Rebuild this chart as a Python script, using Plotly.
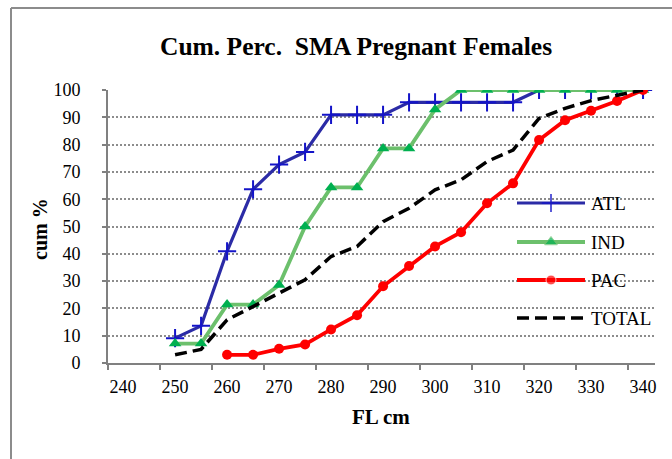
import plotly.graph_objects as go

# FL classes (cm) and cumulative percentages
fl = [250, 255, 260, 265, 270, 275, 280, 285, 290, 295, 300, 305, 310, 315, 320, 325, 330, 335, 340]
atl = [9.1, 13.6, 40.9, 63.6, 72.7, 77.3, 90.9, 90.9, 90.9, 95.5, 95.5, 95.5, 95.5, 95.5, 100, 100, 100, 100, 100]
ind = [7.1, 7.1, 21.4, 21.4, 28.6, 50.0, 64.3, 64.3, 78.6, 78.6, 92.9, 100, 100, 100, 100, 100, 100, 100, 100]
pac_fl = [260, 265, 270, 275, 280, 285, 290, 295, 300, 305, 310, 315, 320, 325, 330, 335, 340]
pac = [3.0, 3.0, 5.2, 6.8, 12.3, 17.5, 28.1, 35.5, 42.7, 47.9, 58.5, 65.8, 81.7, 88.9, 92.4, 96.0, 100]
total = [3.0, 5.0, 15.8, 20.7, 25.6, 30.5, 39.0, 42.7, 51.8, 56.7, 63.4, 67.1, 73.8, 78.0, 89.6, 93.3, 96.1, 98.2, 100]

x_ticks = [240, 250, 260, 270, 280, 290, 300, 310, 320, 330, 340]
y_ticks = [0, 10, 20, 30, 40, 50, 60, 70, 80, 90, 100]

FONT = 'Liberation Serif, Times New Roman, serif'
W, H = 672, 459
L, R, T, B = 108, 17, 90, 96

def px(x):
    return (x - L) / (W - L - R)

def py(y):
    return (H - B - y) / (H - T - B)

series = [
    dict(name='ATL', x=fl, y=atl, line=dict(color='#2B2BA6', width=3.2),
         marker=dict(symbol='cross-thin', size=13, line=dict(color='#1414C8', width=2))),
    dict(name='IND', x=fl, y=ind, line=dict(color='#6CC06C', width=3.8),
         marker=dict(symbol='triangle-up', size=11, color='#00B050')),
    dict(name='PAC', x=pac_fl, y=pac, line=dict(color='#FF0000', width=3.8),
         marker=dict(symbol='circle', size=10, color='#FF0000')),
    dict(name='TOTAL', x=fl, y=total, line=dict(color='#000000', width=3.5, dash='12px,6px'),
         marker=None),
]

fig = go.Figure()
for s in series:
    fig.add_trace(go.Scatter(
        x=s['x'], y=s['y'], name=s['name'],
        mode='lines+markers' if s['marker'] else 'lines',
        line=s['line'], marker=s['marker'], showlegend=False))

# hand-drawn legend on a pixel overlay axis
leg_y = [203, 242, 280, 318]
for s, ly in zip(series, leg_y):
    fig.add_trace(go.Scatter(
        x=[517, 551, 585], y=[ly, ly, ly], xaxis='x2', yaxis='y2',
        mode='lines+markers' if s['marker'] else 'lines',
        line=s['line'],
        marker=dict(s['marker'], size=[0, s['marker']['size'], 0]) if s['marker'] else None,
        showlegend=False, hoverinfo='skip'))
    fig.add_annotation(x=px(589), y=py(ly), xref='paper', yref='paper',
                       text=s['name'], showarrow=False, xanchor='left', yanchor='middle',
                       font=dict(family=FONT, size=19, color='black'))

fig.add_annotation(x=px(356), y=py(47), xref='paper', yref='paper',
                   text='<b>Cum. Perc.\u00a0 SMA Pregnant Females</b>', showarrow=False,
                   xanchor='center', yanchor='middle',
                   font=dict(family=FONT, size=25.5, color='black'))
fig.add_annotation(x=px(381), y=py(417), xref='paper', yref='paper',
                   text='<b>FL cm</b>', showarrow=False, xanchor='center', yanchor='middle',
                   font=dict(family=FONT, size=21, color='black'))
fig.add_annotation(x=px(40), y=py(229), xref='paper', yref='paper',
                   text='<b>cum %</b>', showarrow=False, textangle=-90,
                   xanchor='center', yanchor='middle',
                   font=dict(family=FONT, size=20, color='black'))

# outer chart border (left and top edges are inside the picture)
border = dict(color='#8C8C8C', width=2)
fig.add_shape(type='line', xref='paper', yref='paper',
              x0=px(11), x1=px(672), y0=py(8), y1=py(8), line=border)
fig.add_shape(type='line', xref='paper', yref='paper',
              x0=px(11), x1=px(11), y0=py(8), y1=py(459), line=border)

fig.update_layout(
    width=W, height=H,
    margin=dict(l=L, r=R, t=T, b=B),
    paper_bgcolor='white', plot_bgcolor='white',
    font=dict(family=FONT, size=18, color='black'),
    xaxis=dict(range=[237.1, 342.3], tickvals=x_ticks, ticks='', showgrid=False,
               zeroline=False, showline=True, linecolor='#808080', linewidth=2,
               ticklabelstandoff=6,
               minor=dict(tickvals=[237.1 + 10 * i for i in range(11)], ticks='outside',
                          ticklen=5, tickcolor='#808080', tickwidth=1.5, showgrid=False),
               tickfont=dict(family=FONT, size=18, color='black')),
    yaxis=dict(range=[0, 100], tickvals=y_ticks, ticks='outside', ticklen=4,
               tickcolor='#808080', tickwidth=1.5, showline=True, linecolor='#808080',
               linewidth=2, zeroline=False, showgrid=True, gridcolor='#8C8C8C',
               gridwidth=1.5, griddash='2px,2px', ticklabelstandoff=18,
               tickfont=dict(family=FONT, size=18, color='black')),
    xaxis2=dict(range=[L, W - R], overlaying='x', anchor='y2', visible=False),
    yaxis2=dict(range=[H - B, T], overlaying='y', anchor='x2', visible=False),
)

fig.write_html("out.html", config={'displayModeBar': False},
               post_script="document.body.style.margin='0';")
